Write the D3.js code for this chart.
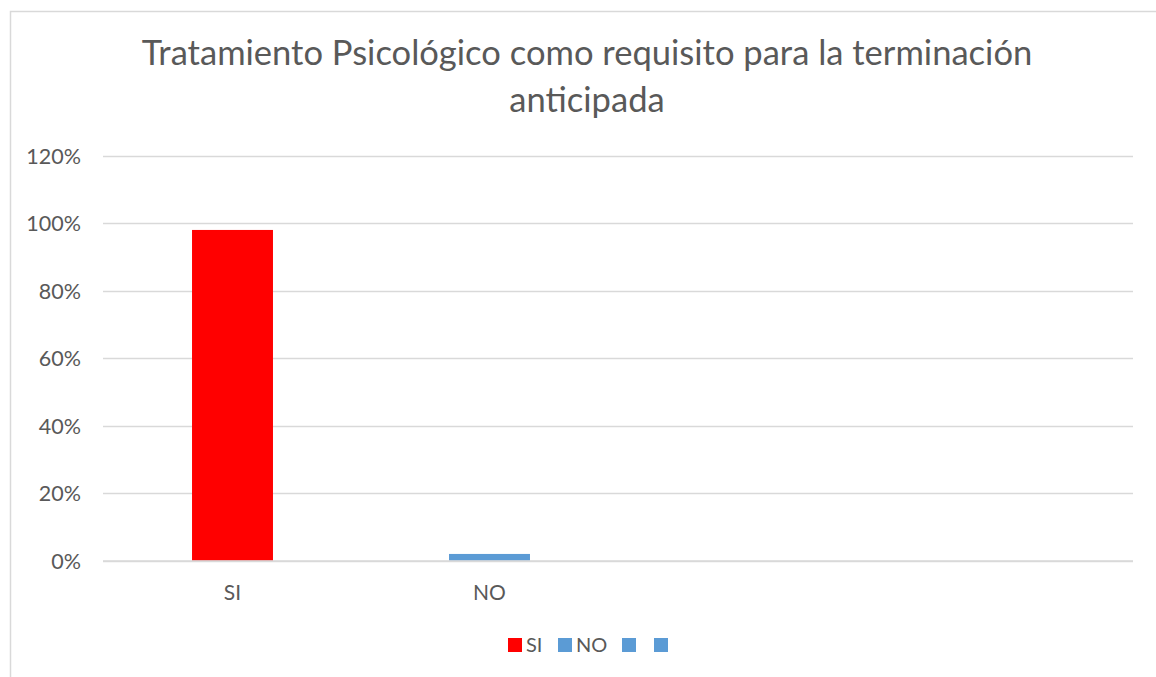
<!DOCTYPE html>
<html><head><meta charset="utf-8">
<script src="https://cdn.jsdelivr.net/npm/d3@7"></script>
<style>body{margin:0;background:#fff}svg{display:block}text{font-family:Lato,"Open Sans",sans-serif;fill:#595959}</style>
</head><body>
<svg id="c" width="1156" height="677"></svg>
<script>
const titleLines = ["Tratamiento Psicológico como requisito para la terminación", "anticipada"];
const categories = ["SI", "NO", "", ""];
const values = [0.98, 0.02, null, null];
const barColors = ["#FF0000", "#5B9BD5", "#5B9BD5", "#5B9BD5"];
const legendLabels = ["SI", "NO", "", ""];
const yTicks = [0, 0.2, 0.4, 0.6, 0.8, 1.0, 1.2];

const svg = d3.select("#c");
// chart border
svg.append("rect").attr("x", 10.5).attr("y", 11.5).attr("width", 1160).attr("height", 700)
  .attr("fill", "none").attr("stroke", "#d9d9d9").attr("stroke-width", 1.5);

const x = d3.scaleBand().domain(d3.range(categories.length)).range([104, 1132]).paddingInner(0.685).paddingOuter(0.3425);
const y = d3.scaleLinear().domain([0, 1.2]).range([560.7, 155.7]);

// gridlines
svg.append("g").selectAll("line").data(yTicks).join("line")
  .attr("x1", 103).attr("x2", 1133)
  .attr("y1", d => Math.round(y(d)) + 0.5).attr("y2", d => Math.round(y(d)) + 0.5)
  .attr("stroke", "#d9d9d9").attr("stroke-width", 1.3);

// y axis labels
const yAxis = d3.axisLeft(y).tickValues(yTicks).tickFormat(d3.format(".0%")).tickSize(0).tickPadding(0);
const gy = svg.append("g").attr("transform", "translate(81,0)").call(yAxis);
gy.select(".domain").remove();
gy.selectAll("text").style("font-size", "21.5px").attr("fill", "#595959").attr("dy", "0.36em").style("font-family", "Lato");

// bars
const band = x.bandwidth();
svg.append("g").selectAll("rect").data(values.map((v, i) => ({v, i})).filter(d => d.v != null)).join("rect")
  .attr("x", d => x(d.i)).attr("width", band)
  .attr("y", d => y(d.v)).attr("height", d => y(0) - y(d.v))
  .attr("fill", d => barColors[d.i]);

// baseline
svg.append("line").attr("x1", 103).attr("x2", 1133).attr("y1", 561).attr("y2", 561)
  .attr("stroke", "#d9d9d9").attr("stroke-width", 1.5);

// x axis labels
const xc = d3.scaleBand().domain(d3.range(categories.length)).range([104, 1132]);
svg.append("g").selectAll("text").data(categories).join("text")
  .attr("x", (d, i) => xc(i) + xc.bandwidth() / 2).attr("y", 600)
  .attr("text-anchor", "middle").style("font-size", "21px").text(d => d);

// title
const t1 = svg.append("text").attr("x", 587).attr("y", 65).attr("text-anchor", "middle").style("font-size", "30px").text(titleLines[0]);
const w = t1.node().getComputedTextLength();
const fs = 30 * 891 / w;
t1.style("font-size", fs + "px");
svg.append("text").attr("x", 587).attr("y", 112).attr("text-anchor", "middle").style("font-size", fs + "px").text(titleLines[1]);

// legend
const legendX = [508, 558, 622, 654];
const lg = svg.append("g");
legendLabels.forEach((lab, i) => {
  lg.append("rect").attr("x", legendX[i]).attr("y", 638).attr("width", 14).attr("height", 14).attr("fill", barColors[i]);
  if (lab) lg.append("text").attr("x", legendX[i] + 18).attr("y", 652).style("font-size", "20px").text(lab);
});
</script>
</body></html>
